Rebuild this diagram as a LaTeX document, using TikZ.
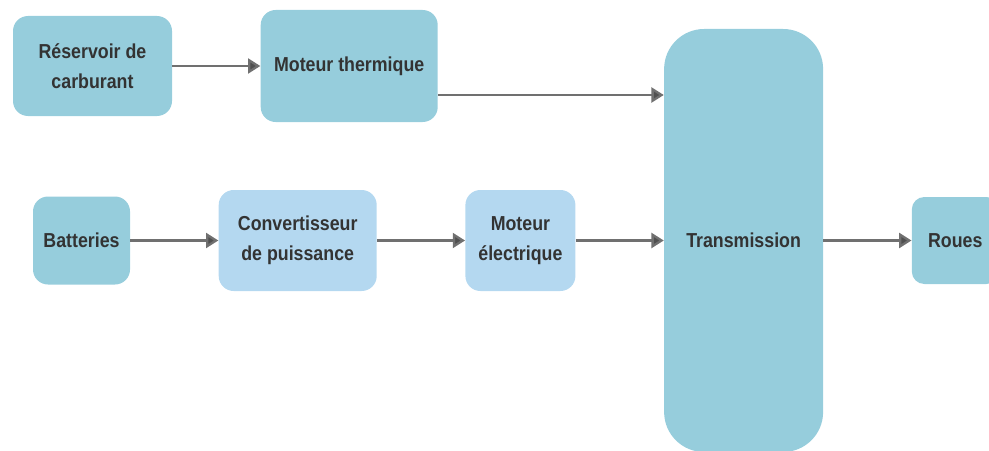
\documentclass[tikz,border=0pt]{standalone}
\usepackage{fontspec}
\setmainfont{Liberation Sans}[FakeStretch=0.88]
\usetikzlibrary{arrows.meta, positioning}

\definecolor{boxdark}{RGB}{150,205,220}
\definecolor{boxlight}{RGB}{180,216,240}
\definecolor{txtgray}{RGB}{51,51,51}
\definecolor{linegray}{RGB}{112,112,112}
\definecolor{tipgray}{RGB}{80,80,80}

\begin{document}
\begin{tikzpicture}[
    b1/.style={fill=boxdark, rounded corners=0.3cm, inner sep=0pt,
      font=\fontsize{11.5}{17}\selectfont\bfseries, text=txtgray, align=center},
    b2/.style={fill=boxlight, rounded corners=0.3cm, inner sep=0pt,
      font=\fontsize{11.5}{17}\selectfont\bfseries, text=txtgray, align=center},
    arr/.style={-{Triangle[length=7pt, width=8.5pt, fill=tipgray]}, draw=linegray, line width=1.3pt},
    node distance=1.76cm
  ]
    \useasboundingbox (0,0) rectangle (19.78,9);
    \clip (0,0) rectangle (19.78,9);
    % thermal branch
    \node[b1, minimum width=3.18cm, minimum height=2cm] (res) at (1.85,7.68) {Réservoir de\\ carburant};
    \node[b1, minimum width=3.54cm, minimum height=2.24cm, right=of res] (mth) {Moteur thermique};
    % electric branch
    \node[b1, minimum width=1.94cm, minimum height=1.76cm] (bat) at (1.63,4.19) {Batteries};
    \node[b2, minimum width=3.16cm, minimum height=2.02cm, right=of bat] (conv) {Convertisseur\\ de puissance};
    \node[b2, minimum width=2.2cm, minimum height=2.02cm, right=of conv] (mel) {Moteur\\ électrique};
    \node[b1, minimum width=3.18cm, minimum height=8.46cm, rounded corners=0.8cm, right=of mel] (trans) {Transmission};
    \node[b1, minimum width=1.74cm, minimum height=1.74cm, rounded corners=0.25cm, right=of trans] (roues) {Roues};
    \coordinate (mthout) at ([yshift=-0.58cm]mth.east);
    \draw[arr] (res)--(mth); \draw[arr] (mthout)--(mthout -| trans.west);
    \draw[arr] (bat)--(conv); \draw[arr] (conv)--(mel);
    \draw[arr] (mel)--(trans); \draw[arr] (trans)--(roues);
\end{tikzpicture}
\end{document}
